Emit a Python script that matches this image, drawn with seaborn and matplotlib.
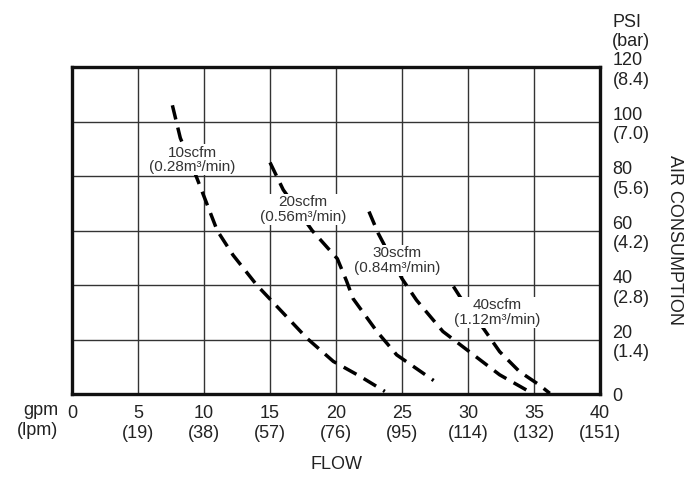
import matplotlib
matplotlib.use("Agg")
import matplotlib.pyplot as plt
import pandas as pd
import seaborn as sns

# air consumption curves (gpm vs psi)
gpm_10 = [7.6, 8.2, 9.4, 11.0, 12.2, 14.0, 17.8, 19.8, 21.8, 23.7]
psi_10 = [106, 94, 80, 60, 51, 40, 20.5, 12, 6.6, 1.0]
gpm_20 = [15.0, 16.0, 18.2, 20.1, 20.8, 21.3, 23.1, 24.6, 27.4]
psi_20 = [85, 75, 60, 49.7, 41.5, 35, 23, 14.4, 5]
gpm_30 = [22.5, 23.2, 25.0, 26.1, 28.1, 30.1, 32.4, 34.8]
psi_30 = [67, 59, 42.4, 34.5, 23, 15.6, 7.1, 0.5]
gpm_40 = [28.9, 29.4, 31.0, 32.4, 33.9, 35.4, 36.2]
psi_40 = [39.5, 35.7, 25.3, 15.6, 8.3, 3.4, 0.3]

curve_names = ["10scfm\n(0.28m³/min)", "20scfm\n(0.56m³/min)",
               "30scfm\n(0.84m³/min)", "40scfm\n(1.12m³/min)"]
label_gpm = [9.1, 17.5, 24.6, 32.2]
label_psi = [86, 67.7, 49, 30]

flow_ticks = [0, 5, 10, 15, 20, 25, 30, 35, 40]
lpm_labels = ["", "19", "38", "57", "76", "95", "114", "132", "151"]
psi_ticks = [0, 20, 40, 60, 80, 100, 120]
bar_labels = ["", "1.4", "2.8", "4.2", "5.6", "7.0", "8.4"]

sns.set_style("white")
plt.rcParams['font.family'] = ['Liberation Sans', 'DejaVu Sans']

fig = plt.figure(figsize=(7, 4.83), dpi=100)
ax = fig.add_axes([0.103, 0.184, 0.754, 0.677])

curves = [(gpm_10, psi_10), (gpm_20, psi_20), (gpm_30, psi_30), (gpm_40, psi_40)]
for (g, p), name in zip(curves, curve_names):
    df = pd.DataFrame({"gpm": g, "psi": p})
    sns.lineplot(data=df, x="gpm", y="psi", ax=ax, sort=False, estimator=None,
                 color="black", lw=2.5, linestyle=(0, (4.2, 2.4)), zorder=3)

for name, x, y in zip(curve_names, label_gpm, label_psi):
    ax.text(x, y, name, ha="center", va="center", fontsize=11, color="#333333",
            linespacing=1.05, zorder=5,
            bbox=dict(facecolor="white", edgecolor="none", pad=1.0))

ax.set_xlim(0, 40)
ax.set_ylim(0, 120)
ax.set_xticks(flow_ticks)
ax.set_xticklabels([str(t) if not l else f"{t}\n({l})" for t, l in zip(flow_ticks, lpm_labels)])
ax.yaxis.tick_right()
ax.set_yticks(psi_ticks)
ax.set_yticklabels([str(t) if not l else f"{t}\n({l})" for t, l in zip(psi_ticks, bar_labels)])
ax.tick_params(axis="both", length=0, labelsize=13, colors="#222222")
ax.tick_params(axis="x", pad=8)
ax.tick_params(axis="y", pad=9)
ax.grid(True, color="#333333", lw=1.0)
ax.set_axisbelow(True)
for s in ax.spines.values():
    s.set_visible(True)
    s.set_color("#111111")
    s.set_linewidth(2.4)
ax.set_xlabel("FLOW", fontsize=13, color="#222222", labelpad=10)
ax.set_ylabel("")

ax.annotate("gpm\n(lpm)", xy=(0, 0), xycoords="axes fraction", xytext=(-10, -6),
            textcoords="offset points", ha="right", va="top", fontsize=13, color="#222222")
fig.text(612 / 700, 1 - 32 / 483, "PSI\n(bar)", ha="left", va="center",
         fontsize=13, color="#222222")
fig.text(675 / 700, 1 - 240 / 483, "AIR CONSUMPTION", rotation=270, ha="center",
         va="center", fontsize=13, color="#222222")

fig.savefig("out.png", dpi=100)
